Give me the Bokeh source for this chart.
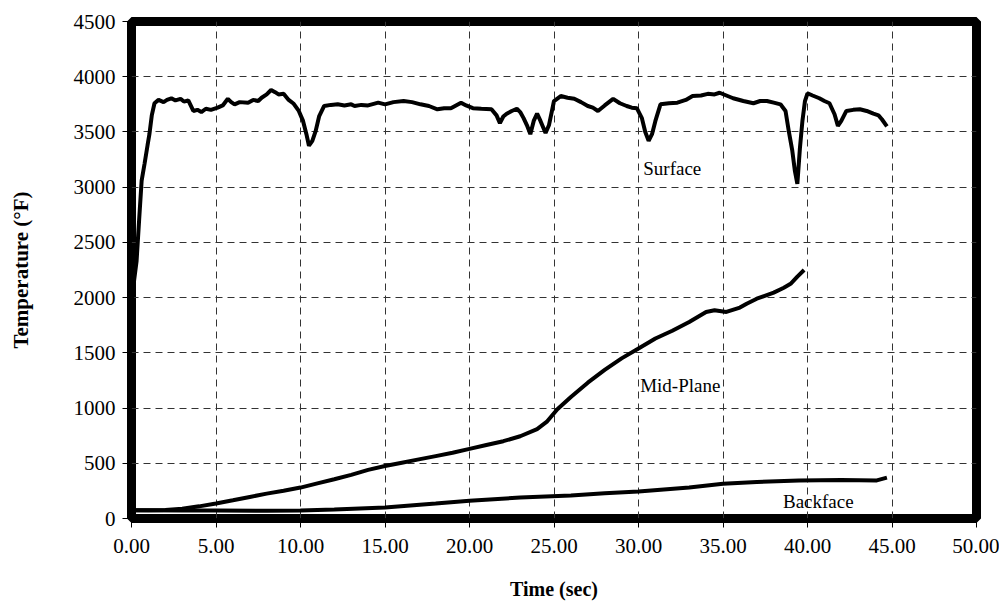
from bokeh.plotting import figure
from bokeh.models import FixedTicker, PrintfTickFormatter, Label, Range1d
from bokeh.embed import file_html
from bokeh.resources import INLINE

# ---- data ----
surface_t = [0.0, 0.15, 0.3, 0.45, 0.6, 0.77, 0.95, 1.06, 1.2, 1.36, 1.6, 1.9, 2.1, 2.36, 2.6, 2.9,
             3.1, 3.36, 3.66, 3.9, 4.13, 4.4, 4.7, 5.1, 5.4, 5.7, 5.9, 6.1, 6.4, 6.9, 7.2, 7.5, 7.7,
             8.0, 8.26, 8.5, 8.7, 9.0, 9.3, 9.6, 9.9, 10.15, 10.35, 10.5, 10.7, 10.9, 11.1, 11.4,
             11.8, 12.2, 12.6, 13.0, 13.2, 13.6, 14.0, 14.6, 15.0, 15.5, 16.1, 16.6, 17.1, 17.6,
             18.1, 18.5, 18.9, 19.2, 19.5, 19.8, 20.2, 20.7, 21.3, 21.6, 21.8, 22.0, 22.2, 22.5,
             22.8, 23.0, 23.2, 23.4, 23.6, 23.8, 24.0, 24.2, 24.5, 24.7, 25.0, 25.4, 25.8, 26.2,
             26.6, 27.0, 27.3, 27.6, 28.0, 28.5, 28.9, 29.3, 29.6, 29.9, 30.2, 30.4, 30.6, 30.8,
             31.0, 31.3, 31.8, 32.3, 32.8, 33.2, 33.7, 34.1, 34.5, 34.8, 35.2, 35.6, 36.2, 36.8,
             37.2, 37.6, 38.0, 38.4, 38.7, 38.9, 39.1, 39.25, 39.4, 39.55, 39.7, 39.85, 40.0, 40.3,
             40.7, 41.0, 41.3, 41.6, 41.8, 42.0, 42.3, 42.7, 43.1, 43.5, 43.9, 44.2, 44.4, 44.7]
surface_v = [1950, 2150, 2330, 2700, 3060, 3210, 3380, 3480, 3650, 3760, 3790, 3770, 3790, 3805, 3785, 3800,
             3775, 3785, 3690, 3700, 3680, 3710, 3700, 3720, 3740, 3800, 3770, 3750, 3770, 3765, 3790, 3780, 3810,
             3840, 3880, 3860, 3840, 3845, 3790, 3755, 3690, 3600, 3480, 3375, 3420, 3510, 3640, 3735,
             3745, 3750, 3740, 3750, 3735, 3745, 3740, 3765, 3750, 3770, 3780, 3770, 3750, 3735,
             3705, 3715, 3715, 3740, 3765, 3740, 3715, 3710, 3705, 3650, 3580, 3640, 3665, 3690,
             3710, 3680, 3625, 3560, 3480, 3600, 3665, 3600, 3490, 3560, 3780, 3825, 3810, 3800,
             3770, 3735, 3720, 3690, 3740, 3800, 3760, 3735, 3720, 3715, 3625, 3500, 3420, 3480,
             3600, 3750, 3760, 3765, 3790, 3825, 3830, 3845, 3840, 3855, 3830, 3805, 3780, 3760,
             3780, 3780, 3765, 3750, 3690, 3500, 3330, 3150, 3030, 3350, 3600, 3780, 3850, 3830,
             3805, 3780, 3760, 3660, 3555, 3600, 3690, 3700, 3705, 3690, 3665, 3650, 3615, 3550]

midplane_t = [0, 1, 2, 3, 4, 5, 6, 7, 8, 9, 10, 11, 12, 13, 14, 15, 16, 17, 18, 19, 20, 21, 22, 23,
              24, 24.6, 25.2, 26, 27, 28, 29, 30, 31, 32, 33, 34, 34.5, 35.2, 36, 36.4, 37, 38, 38.6,
              39, 39.4, 39.8]
midplane_v = [75, 75, 78, 88, 110, 136, 165, 195, 225, 252, 280, 318, 355, 395, 440, 475, 505, 535, 565,
              595, 630, 665, 700, 745, 810, 880, 990, 1100, 1230, 1345, 1450, 1540, 1630, 1700, 1780,
              1870, 1885, 1870, 1910, 1945, 1990, 2045, 2090, 2125, 2190, 2250]

backface_t = [0, 3, 5, 8, 10, 12, 15, 18, 20, 23, 26, 28, 30, 33, 35, 37, 39.5, 42, 44.1, 44.7]
backface_v = [75, 73, 72, 70, 72, 82, 100, 135, 160, 190, 208, 228, 245, 280, 315, 330, 345, 348, 345, 370]

x_ticks = [0, 5, 10, 15, 20, 25, 30, 35, 40, 45, 50]
y_ticks = [0, 500, 1000, 1500, 2000, 2500, 3000, 3500, 4000, 4500]

series_labels = ["Surface", "Mid-Plane", "Backface"]
label_x = [30.28, 30.1, 38.55]
label_y = [3165, 1203, 154]

FONT = "Liberation Serif"

p = figure(width=999, height=607, output_backend="svg", toolbar_location=None,
           x_range=Range1d(0, 50), y_range=Range1d(0, 4500),
           min_border_left=131, min_border_right=23, min_border_top=21, min_border_bottom=89)
p.frame_width = 845
p.frame_height = 497

p.background_fill_color = "white"
p.border_fill_color = "white"
p.outline_line_color = "black"
p.outline_line_width = 9

for ax in (p.xaxis[0], p.yaxis[0]):
    ax.axis_line_color = None
    ax.major_tick_in = 0
    ax.major_tick_out = 9
    ax.major_tick_line_color = "black"
    ax.minor_tick_line_color = None
    ax.major_label_text_font = FONT
    ax.major_label_text_font_size = "21px"
    ax.major_label_text_color = "black"
    ax.axis_label_text_font = FONT
    ax.axis_label_text_font_style = "bold"
    ax.axis_label_text_color = "black"

p.xaxis.axis_label_text_font_size = "20px"
p.yaxis.axis_label_text_font_size = "21px"
p.xaxis.ticker = FixedTicker(ticks=x_ticks)
p.xaxis.formatter = PrintfTickFormatter(format="%.2f")
p.yaxis.ticker = FixedTicker(ticks=y_ticks)
p.xaxis.axis_label = "Time (sec)"
p.yaxis.axis_label = "Temperature (°F)"
p.xaxis.major_label_standoff = 11
p.yaxis.major_label_standoff = 7
p.xaxis.axis_label_standoff = 22
p.yaxis.axis_label_standoff = 38

for g in (p.xgrid[0], p.ygrid[0]):
    g.grid_line_color = "#333333"
    g.grid_line_width = 1
    g.grid_line_dash = "7 5"

p.line(surface_t, surface_v, line_color="black", line_width=4)
p.line(midplane_t, midplane_v, line_color="black", line_width=4)
p.line(backface_t, backface_v, line_color="black", line_width=4)

for txt, lx, ly in zip(series_labels, label_x, label_y):
    p.add_layout(Label(x=lx, y=ly, text=txt, text_font=FONT, text_font_size="19px",
                       text_color="black", text_baseline="middle", text_align="left"))

open("out.html", "w").write(file_html(p, INLINE))
